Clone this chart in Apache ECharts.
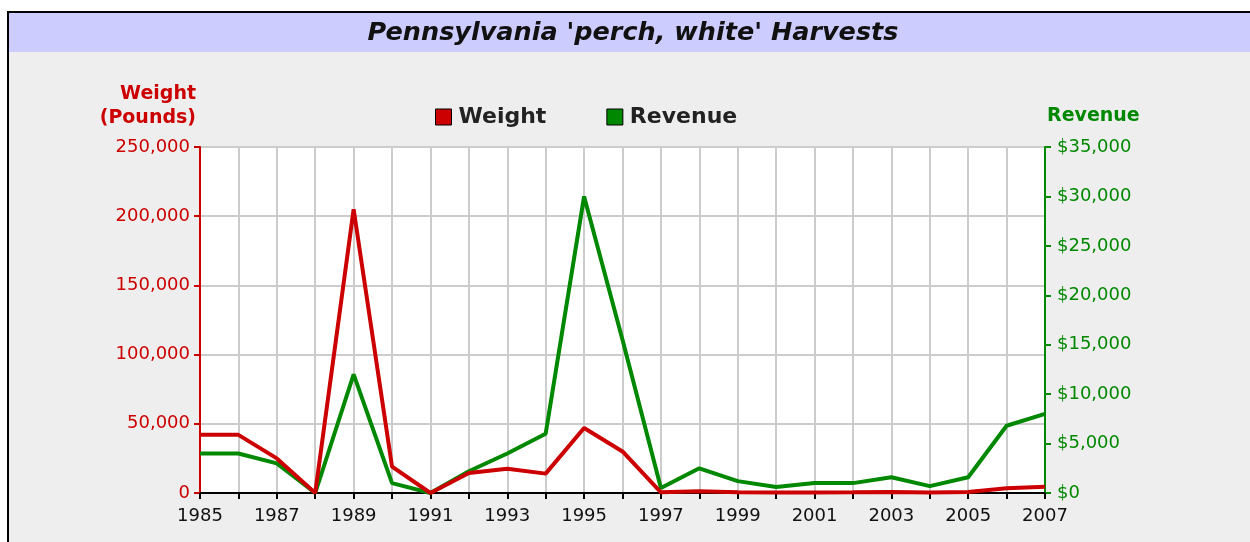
<!DOCTYPE html>
<html>
<head>
<meta charset="utf-8">
<script src="https://cdn.jsdelivr.net/npm/echarts@6/dist/echarts.min.js"></script>
<style>
  html, body { margin: 0; padding: 0; background: #fff; }
  #chart { width: 1250px; height: 542px; }
</style>
</head>
<body>
<div id="chart"></div>
<script>
// Данные
const years = ['1985', '1986', '1987', '1988', '1989', '1990', '1991', '1992', '1993', '1994', '1995', '1996',
    '1997', '1998', '1999', '2000', '2001', '2002', '2003', '2004', '2005', '2006', '2007'];
const weight = [42000, 42000, 25000, 0, 205000, 19000, 0, 14500, 17500, 14000, 47000, 30000,
    500, 1200, 600, 300, 300, 500, 800, 400, 800, 3500, 4500];
const revenue = [4000, 4000, 3000, 0, 12000, 1000, 0, 2200, 4000, 6000, 30000, 15500,
    500, 2500, 1200, 600, 1000, 1000, 1600, 700, 1600, 6800, 8000];

const RED = '#cc0000';
const GREEN = '#008800';
const FONT = 'DejaVu Sans';

const fmt = v => v.toLocaleString('en-US');

const chart = echarts.init(document.getElementById('chart'));

chart.setOption({
    animation: false,
    backgroundColor: '#ffffff',
    graphic: [
        // рамка и полоса заголовка
        { type: 'rect', z: -10, shape: { x: 8, y: 12, width: 1260, height: 540 },
          style: { fill: '#eeeeee', stroke: '#000', lineWidth: 2 } },
        { type: 'rect', z: -9, shape: { x: 9, y: 13, width: 1250, height: 39 },
          style: { fill: '#ccccff' } },
        { type: 'text', x: 633, y: 20,
          style: { text: "Pennsylvania 'perch, white' Harvests", fill: '#111', align: 'center',
                   font: 'italic bold 25.5px "DejaVu Sans"' } },
        // подписи осей
        { type: 'text', x: 196, y: 82,
          style: { text: 'Weight\n(Pounds)', fill: RED, align: 'right', lineHeight: 24,
                   font: 'bold 19px "DejaVu Sans"' } },
        { type: 'text', x: 1047, y: 107,
          style: { text: 'Revenue', fill: GREEN, align: 'left',
                   font: 'bold 19px "DejaVu Sans"' } }
    ],
    legend: {
        left: 430,
        top: 101,
        itemGap: 60,
        itemWidth: 16,
        itemHeight: 16,
        icon: 'rect',
        textStyle: { fontFamily: FONT, fontWeight: 'bold', fontSize: 22, color: '#222',
                     padding: [0, 0, 0, 2] },
        data: [
            { name: 'Weight', itemStyle: { color: RED, borderColor: '#000', borderWidth: 1 } },
            { name: 'Revenue', itemStyle: { color: GREEN, borderColor: '#000', borderWidth: 1 } }
        ]
    },
    grid: {
        left: 200,
        right: 205,
        top: 147,
        bottom: 49,
        show: true,
        backgroundColor: '#ffffff',
        borderColor: '#000',
        borderWidth: 1
    },
    xAxis: {
        type: 'category',
        data: years,
        boundaryGap: false,
        axisLine: { lineStyle: { color: '#000', width: 2 } },
        axisTick: { interval: 0, length: 6, lineStyle: { color: '#000', width: 2 } },
        axisLabel: { interval: 1, color: '#111', fontFamily: FONT, fontSize: 18, margin: 14 },
        splitLine: { show: true, interval: 0, lineStyle: { color: '#cccccc', width: 2 } }
    },
    yAxis: [
        {
            type: 'value',
            min: 0,
            max: 250000,
            interval: 50000,
            position: 'left',
            axisLine: { show: true, lineStyle: { color: RED, width: 2 } },
            axisTick: { show: true, length: 6, lineStyle: { color: RED, width: 2 } },
            axisLabel: { color: RED, fontFamily: FONT, fontSize: 18, margin: 10, formatter: fmt },
            splitLine: { show: true, lineStyle: { color: '#cccccc', width: 2 } }
        },
        {
            type: 'value',
            min: 0,
            max: 35000,
            interval: 5000,
            position: 'right',
            axisLine: { show: true, lineStyle: { color: GREEN, width: 2 } },
            axisTick: { show: true, length: 6, lineStyle: { color: GREEN, width: 2 } },
            axisLabel: { color: GREEN, fontFamily: FONT, fontSize: 18, margin: 12,
                         formatter: v => '$' + fmt(v) },
            splitLine: { show: false }
        }
    ],
    series: [
        {
            name: 'Weight',
            type: 'line',
            yAxisIndex: 0,
            data: weight,
            symbol: 'none',
            lineStyle: { color: RED, width: 4 },
            itemStyle: { color: RED },
            z: 3
        },
        {
            name: 'Revenue',
            type: 'line',
            yAxisIndex: 1,
            data: revenue,
            symbol: 'none',
            lineStyle: { color: GREEN, width: 4 },
            itemStyle: { color: GREEN },
            z: 2
        }
    ]
});
</script>
</body>
</html>
